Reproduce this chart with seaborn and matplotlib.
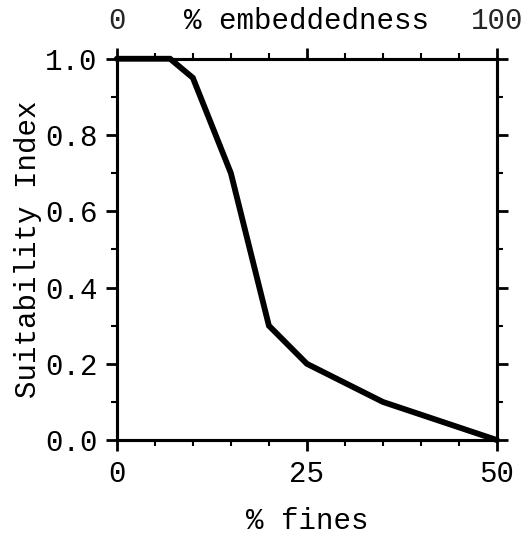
import matplotlib
matplotlib.use("Agg")
import matplotlib.pyplot as plt
import seaborn as sns
import pandas as pd
from matplotlib.ticker import MultipleLocator, FixedLocator

fines = [0, 7, 10, 15, 20, 25, 35, 50]
suitability = [1.0, 1.0, 0.95, 0.7, 0.3, 0.2, 0.1, 0.0]
x_ticks = [0, 25, 50]
x_tick_labels = ["0", "25", "50"]
y_ticks = [0.0, 0.2, 0.4, 0.6, 0.8, 1.0]
top_ticks = [0, 50, 100]
top_tick_labels = ["0", "", "100"]

sns.set_theme(style="ticks")
plt.rcParams['font.family'] = ['Liberation Mono', 'DejaVu Sans Mono']

df = pd.DataFrame({"fines": fines, "si": suitability})

fig = plt.figure(figsize=(5.31, 5.44), dpi=100)
ax = fig.add_axes([0.220, 0.191, 0.716, 0.701])
sns.lineplot(data=df, x="fines", y="si", ax=ax, color="black", linewidth=4.2,
             solid_joinstyle="miter", clip_on=False)
ax.set_xlim(0, 50)
ax.set_ylim(0, 1.0)
ax.set_xticks(x_ticks)
ax.set_xticklabels(x_tick_labels)
ax.set_yticks(y_ticks)
ax.set_yticklabels([f"{v:.1f}" for v in y_ticks])
ax.xaxis.set_minor_locator(MultipleLocator(5))
ax.yaxis.set_minor_locator(MultipleLocator(0.1))
ax.tick_params(axis="both", which="major", direction="out", length=8, width=2,
               labelsize=21, color="black", labelcolor="black", pad=6)
ax.tick_params(axis="both", which="minor", direction="out", length=4, width=1.5, color="black")
ax.tick_params(axis="y", which="both", right=True)
ax.set_xlabel("% fines", fontsize=21, labelpad=14, color="black")
ax.set_ylabel("Suitability Index", fontsize=21, labelpad=2, color="black")
for s in ax.spines.values():
    s.set_linewidth(2.2)
    s.set_color("black")
    s.set_visible(True)

top = ax.twiny()
top.set_xlim(0, 100)
top.set_xticks(top_ticks)
top.set_xticklabels(top_tick_labels)
top.xaxis.set_minor_locator(FixedLocator([10, 20, 30, 40, 60, 70, 80, 90]))
top.tick_params(axis="x", which="major", direction="out", length=8, width=2,
                labelsize=21, pad=9, color="black")
top.tick_params(axis="x", which="minor", direction="out", length=4, width=1.5, color="black")
top.text(0.5, 1.10, "% embeddedness", transform=ax.transAxes, ha="center", va="center",
         fontsize=21, color="black")
for s in top.spines.values():
    s.set_linewidth(2.2)
    s.set_color("black")

fig.savefig("out.png", dpi=100, facecolor="white")
